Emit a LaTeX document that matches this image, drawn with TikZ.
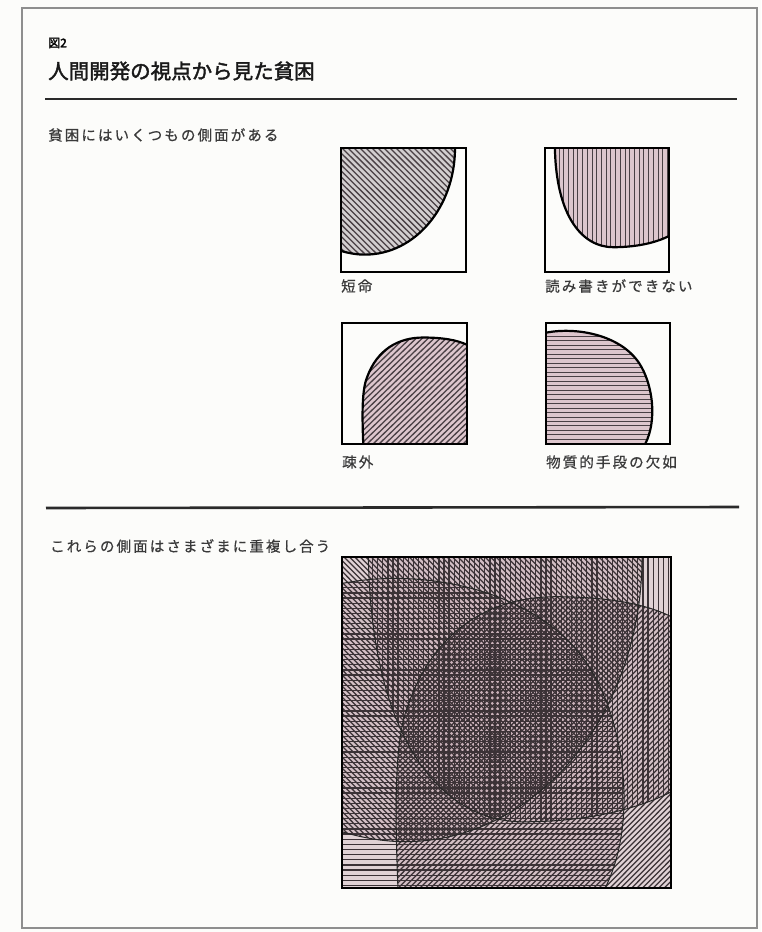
\documentclass[tikz,border=0pt]{standalone}
\usepackage{fontspec}
\newfontfamily\jp[FakeBold=0.6]{Noto Sans CJK JP}
\newfontfamily\jpb[FakeBold=2]{Noto Sans CJK JP}
\newdimen\spcsep
\def\spc#1{\spcloop#1\relax}
\def\spcloop#1{\ifx\relax#1\else#1\kern\spcsep\expandafter\spcloop\fi}
% shape outlines in unit box coordinates (y downward)
\def\curveA{(0.912,0) .. controls (0.912,0.475) and (0.593,0.86) .. (0.19,0.86) .. controls (0.12,0.86) and (0.05,0.845) .. (0,0.83)}
\def\curveB{(0.08,0) .. controls (0.09,0.55) and (0.3,0.80) .. (0.55,0.80) .. controls (0.75,0.80) and (0.9,0.76) .. (1,0.71)}
\def\curveC{(0.17,1) .. controls (0.16,0.75) and (0.16,0.55) .. (0.2,0.45) .. controls (0.28,0.22) and (0.45,0.12) .. (0.65,0.12) .. controls (0.8,0.12) and (0.92,0.14) .. (1,0.18)}
\def\curveD{(0,0.08) .. controls (0.25,0.03) and (0.6,0.1) .. (0.75,0.33) .. controls (0.86,0.5) and (0.9,0.8) .. (0.8,1)}
\def\shapeA{\curveA -- (0,0) -- cycle}
\def\shapeB{\curveB -- (1,0) -- cycle}
\def\shapeC{\curveC -- (1,1) -- cycle}
\def\shapeD{\curveD -- (0,1) -- cycle}
\newcommand\hV[2]{\foreach \k in {0,...,#2}{\draw[hl] ({\k*#1},0) -- ({\k*#1},1);}}
\newcommand\hH[2]{\foreach \k in {0,...,#2}{\draw[hl] (0,{\k*#1}) -- (1,{\k*#1});}}
\newcommand\hNW[2]{\foreach \k in {0,...,#2}{\draw[hl] ({\k*#1-1},0) -- ({\k*#1},1);}}
\newcommand\hNE[2]{\foreach \k in {0,...,#2}{\draw[hl] ({\k*#1-1},1) -- ({\k*#1},0);}}
\definecolor{bgc}{HTML}{FCFCFA}
\definecolor{framec}{HTML}{8E8E8E}
\definecolor{rulec}{HTML}{2A2A2A}
\definecolor{txtc}{HTML}{3A3A3A}
\definecolor{grayfill}{HTML}{D2CECF}
\definecolor{pinkfill}{HTML}{DDC6CD}
\definecolor{bigfill}{HTML}{C9B0B8}
\definecolor{hatchc}{HTML}{4A4045}
\definecolor{bigline}{HTML}{3B3236}
\begin{document}
\begin{tikzpicture}[x=1pt,y=-1pt,
  frame/.style={draw=framec,line width=2.5pt},
  rulestyle/.style={draw=rulec,line width=2.6pt},
  hl/.style={draw=hatchc,line width=1.3pt},
  edge/.style={draw=black,line width=2.2pt},
  boxs/.style={draw=black,line width=1.5pt},
  bigedge/.style={draw=black!85,line width=1pt},
  txt/.style={anchor=west,inner sep=0pt,text=txtc,font=\jp\fontsize{14.5}{14.5}\selectfont}]
\useasboundingbox (0,0) rectangle (761,932);
\fill[bgc] (0,0) rectangle (761,932);
\draw[frame] (22,8) rectangle (757,928);
% header
\node[anchor=west,inner sep=0pt,text=black] (fig) at (48,43) {\jpb\fontsize{12}{12}\selectfont 図2};
\node[anchor=west,inner sep=0pt,text=black!90] (title) at (48,71) {\jpb\fontsize{20.5}{20.5}\selectfont 人間開発の視点から見た貧困};
\draw[rulestyle] (45,99) -- (737,99);
\spcsep=2.1pt
\node[txt] (sub1) at (48,135) {\spc{貧困にはいくつもの側面がある}};
% panel 1
\begin{scope}[shift={(341,148)},x=125pt,y=-124pt]
  \begin{scope}
    \clip \shapeA;
    \fill[grayfill] \shapeA;
    \hNW{0.048}{42}
  \end{scope}
  \draw[edge] \curveA;
  \draw[boxs] (0,0) rectangle (1,1);
\end{scope}
\node[txt] (l1) at (341,286) {\spc{短命}};
% panel 2
\begin{scope}[shift={(545,148)},x=124pt,y=-124pt]
  \begin{scope}
    \clip \shapeB;
    \fill[pinkfill] \shapeB;
    \tikzset{hl/.append style={line width=1pt}}
    \hV{0.038}{27}
  \end{scope}
  \draw[edge] \curveB;
  \draw[boxs] (0,0) rectangle (1,1);
\end{scope}
\node[txt] (l2) at (545,286) {\spc{読み書きができない}};
% panel 3
\begin{scope}[shift={(342,323)},x=125pt,y=-121pt]
  \begin{scope}
    \clip \shapeC;
    \fill[pinkfill] \shapeC;
    \hNE{0.048}{42}
  \end{scope}
  \draw[edge] \curveC;
  \draw[boxs] (0,0) rectangle (1,1);
\end{scope}
\node[txt] (l3) at (342,462) {\spc{疎外}};
% panel 4
\begin{scope}[shift={(546,323)},x=124pt,y=-121pt]
  \begin{scope}
    \clip \shapeD;
    \fill[pinkfill] \shapeD;
    \tikzset{hl/.append style={line width=1pt}}
    \hH{0.037}{28}
  \end{scope}
  \draw[edge] \curveD;
  \draw[boxs] (0,0) rectangle (1,1);
\end{scope}
\node[txt] (l4) at (546,462) {\spc{物質的手段の欠如}};
% second rule
\draw[rulestyle] (46,508) -- (739,507);
\node[txt] (sub2) at (50,546) {\spc{これらの側面はさまざまに重複し合う}};
% big overlap panel
\begin{scope}[shift={(342,557)},x=329pt,y=-331pt]
  \tikzset{hl/.style={draw=bigline,line width=1.25pt}}
  \begin{scope}
    \clip (0,0) rectangle (1,1);
    \fill[bigfill,fill opacity=0.55] \shapeA;
    \fill[bigfill,fill opacity=0.55] \shapeB;
    \fill[bigfill,fill opacity=0.55] \shapeC;
    \fill[bigfill,fill opacity=0.55] \shapeD;
    \begin{scope}\clip \shapeA; \hNW{0.0165}{122} \end{scope}
    \begin{scope}\clip \shapeB; \hV{0.0155}{65} \end{scope}
    \begin{scope}\clip \shapeC; \hNE{0.0165}{122} \end{scope}
    \begin{scope}\clip \shapeD; \hH{0.0155}{65} \end{scope}
    \draw[bigedge] \curveA;
    \draw[bigedge] \curveB;
    \draw[bigedge] \curveC;
    \draw[bigedge] \curveD;
  \end{scope}
  \draw[boxs] (0,0) rectangle (1,1);
\end{scope}
\end{tikzpicture}
\end{document}
